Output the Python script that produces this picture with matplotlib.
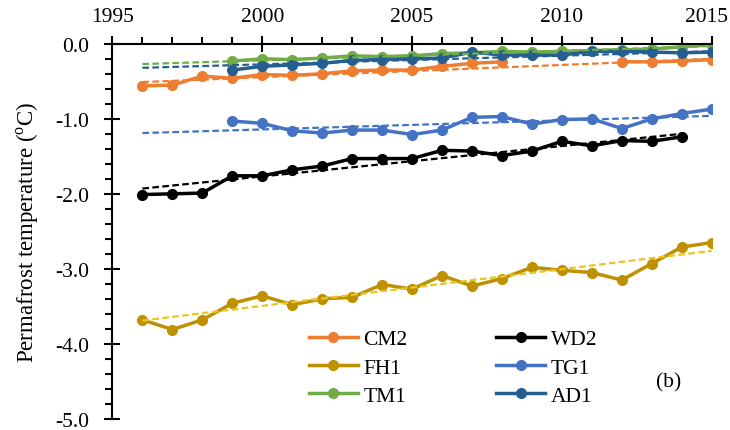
import numpy as np
import matplotlib.pyplot as plt
from matplotlib.ticker import MultipleLocator
from matplotlib.transforms import ScaledTranslation

plt.rcParams['font.family'] = ['Liberation Serif', 'DejaVu Serif']
plt.rcParams['mathtext.fontset'] = 'custom'
plt.rcParams['mathtext.rm'] = 'Liberation Serif'
plt.rcParams['axes.unicode_minus'] = False

years = np.arange(1996, 2016)
nan = np.nan

cm2 = [-0.56, -0.55, -0.43, -0.46, -0.41, -0.42, -0.40, -0.36, -0.35, -0.35,
       -0.30, -0.26, -0.24, nan, nan, nan, -0.24, -0.24, -0.23, -0.21]
wd2 = [-2.01, -2.00, -1.99, -1.76, -1.76, -1.68, -1.63, -1.53, -1.53, -1.53,
       -1.42, -1.43, -1.49, -1.43, -1.30, -1.36, -1.29, -1.30, -1.24, nan]
fh1 = [-3.68, -3.81, -3.68, -3.46, -3.36, -3.48, -3.40, -3.38, -3.21, -3.27,
       -3.09, -3.23, -3.13, -2.98, -3.02, -3.05, -3.15, -2.93, -2.71, -2.65]
tg1 = [nan, nan, nan, -1.03, -1.06, -1.16, -1.19, -1.15, -1.15, -1.21,
       -1.15, -0.98, -0.97, -1.07, -1.01, -1.00, -1.13, -1.00, -0.93, -0.87]
tm1 = [nan, nan, nan, -0.23, -0.20, -0.21, -0.19, -0.16, -0.17, -0.16,
       -0.13, -0.12, -0.10, -0.11, -0.10, -0.09, -0.08, -0.07, -0.04, -0.01]
ad1 = [nan, nan, nan, -0.35, -0.30, -0.28, -0.26, -0.22, -0.21, -0.20,
       -0.19, -0.11, -0.15, -0.15, -0.15, -0.10, -0.10, -0.11, -0.12, -0.11]

# trend lines (start year, end year, start value, end value)
trend_years = {'CM2': [1996, 2015], 'WD2': [1996, 2014], 'FH1': [1996, 2015],
               'TG1': [1996, 2015], 'TM1': [1996, 2015], 'AD1': [1996, 2015]}
trend_vals = {'CM2': [-0.51, -0.20], 'WD2': [-1.93, -1.20], 'FH1': [-3.69, -2.76],
              'TG1': [-1.19, -0.96], 'TM1': [-0.27, -0.03], 'AD1': [-0.32, -0.10]}

names = ['CM2', 'WD2', 'FH1', 'TG1', 'TM1', 'AD1']
series = [cm2, wd2, fh1, tg1, tm1, ad1]
colors = ['#ED7D31', '#000000', '#BF9000', '#4472C4', '#70AD47', '#255E91']
trend_colors = ['#ED7D31', '#000000', '#E8C520', '#4472C4', '#70AD47', '#255E91']

fig = plt.figure(figsize=(7.3, 4.31), dpi=100)
ax = fig.add_axes([0.154, 0.026, 0.821, 0.87])

handles = {}
for name, vals, c, tc in zip(names, series, colors, trend_colors):
    ax.plot(trend_years[name], trend_vals[name], color=tc, lw=1.6,
            linestyle=(0, (3, 1.5)), zorder=3)
    h, = ax.plot(years, vals, color=c, lw=2.5, marker='o', markersize=7,
                 label=name, zorder=2)
    handles[name] = h

ax.set_xlim(1995, 2015)
ax.set_ylim(-5, 0)
ax.spines['bottom'].set_visible(False)
ax.spines['right'].set_visible(False)
ax.spines['top'].set_linewidth(1.5)
ax.spines['left'].set_linewidth(1.5)

ax.xaxis.tick_top()
ax.xaxis.set_major_locator(MultipleLocator(5))
ax.xaxis.set_minor_locator(MultipleLocator(1))
ax.yaxis.set_major_locator(MultipleLocator(1))
ax.yaxis.set_minor_locator(MultipleLocator(0.2))
ax.yaxis.set_major_formatter(plt.FormatStrFormatter('%.1f'))
ax.tick_params(axis='x', which='major', direction='inout', length=12, width=1.5,
               labelsize=15.5, pad=7)
ax.tick_params(axis='x', which='minor', direction='out', length=5, width=1.5)
ax.tick_params(axis='y', which='major', direction='inout', length=12, width=1.5,
               labelsize=15.5, pad=11)
ax.tick_params(axis='y', which='minor', direction='out', length=5, width=1.5)

ax.set_ylabel(r'Permafrost temperature ($^{\mathrm{o}}$C)', fontsize=16.5, labelpad=10)

order = ['CM2', 'FH1', 'TM1', 'WD2', 'TG1', 'AD1']
ax.legend([handles[n] for n in order], order, ncol=2, frameon=False,
          loc='upper left', bbox_to_anchor=(0.295, 0.29), fontsize=15.5,
          handlelength=2.3, columnspacing=4.1, labelspacing=0.37, handletextpad=0.25)
ax.text(0.928, 0.099, '(b)', transform=ax.transAxes, fontsize=15.5,
        ha='center', va='center')

# keep the last year label (top axis) inside the figure
fig.canvas.draw()
for tick in ax.xaxis.get_major_ticks():
    if abs(tick.get_loc() - 2015) < 0.01:
        lbl = tick.label2
        lbl.set_transform(lbl.get_transform() + ScaledTranslation(-4 / 72, 0, fig.dpi_scale_trans))

fig.savefig('out.png', dpi=100)
